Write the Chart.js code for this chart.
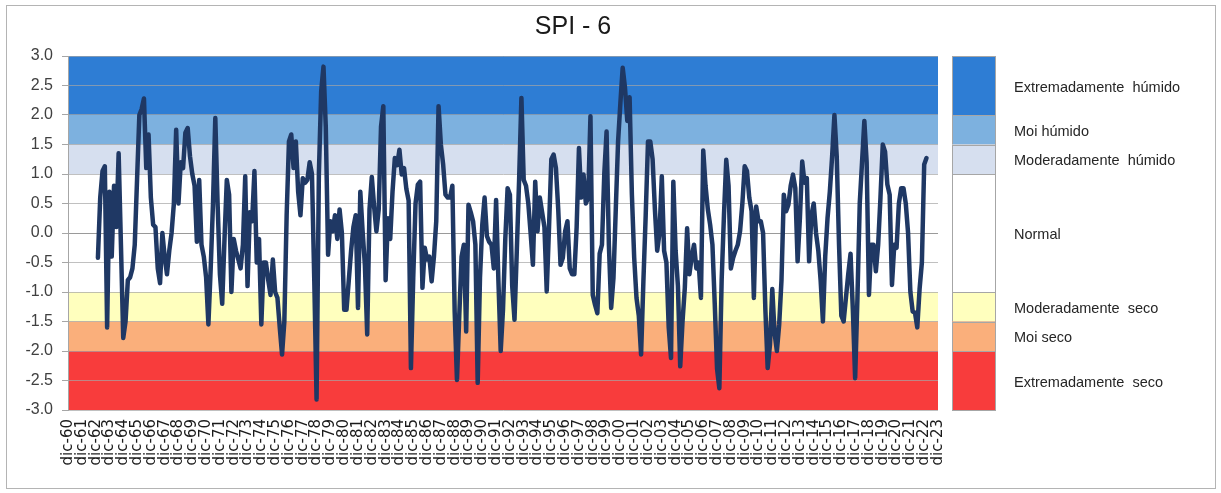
<!DOCTYPE html>
<html>
<head>
<meta charset="utf-8">
<title>SPI - 6</title>
<script src="https://cdn.jsdelivr.net/npm/chart.js@4.4.1/dist/chart.umd.min.js"></script>
<style>
    html, body { margin: 0; padding: 0; background: #fff; }
    #wrap { position: relative; width: 1221px; height: 493px; }
    #frame { position: absolute; left: 6px; top: 5px; width: 1210px; height: 484px;
             box-sizing: border-box; border: 1px solid #b4b4b4; pointer-events: none; }
</style>
</head>
<body>
<div id="wrap">
    <canvas id="spiChart" width="1221" height="493"></canvas>
    <div id="frame"></div>
</div>
<script>
// x axis: months counted from dic-60, one labelled tick each December
var yearLabels = ['60','61','62','63','64','65','66','67','68','69',
                  '70','71','72','73','74','75','76','77','78','79',
                  '80','81','82','83','84','85','86','87','88','89',
                  '90','91','92','93','94','95','96','97','98','99',
                  '00','01','02','03','04','05','06','07','08','09',
                  '10','11','12','13','14','15','16','17','18','19',
                  '20','21','22','23'];
var firstMonth = 26;   // feb-63
var stepMonths = 2;

// SPI-6, one value every two months (feb, abr, xuñ, ago, out, dic)
var spi6 = [
    -0.42, 0.6, 1.05, 1.13, -1.6, 0.7,       // 1963
    -0.4, 0.8, 0.1, 1.35, -0.2, -1.78,       // 1964
    -1.5, -0.8, -0.75, -0.6, -0.2, 0.9,      // 1965
    2.0, 2.1, 2.28, 1.1, 1.67, 0.6,          // 1966
    0.14, 0.1, -0.6, -0.85, 0.0, -0.4,       // 1967
    -0.7, -0.3, 0.0, 0.5, 1.75, 0.5,         // 1968
    1.2, 1.1, 1.7, 1.78, 1.3, 1.0,           // 1969
    0.8, -0.15, 0.9, -0.2, -0.4, -0.75,      // 1970
    -1.55, -0.6, 0.5, 1.95, 0.5, -0.7,       // 1971
    -1.2, -0.1, 0.9, 0.65, -1.0, -0.1,       // 1972
    -0.3, -0.45, -0.6, -0.2, 0.96, -0.9,     // 1973
    0.35, 0.2, 1.05, -0.5, -0.1, -1.55,      // 1974
    -0.5, -0.5, -0.8, -1.05, -0.45, -1.0,    // 1975
    -1.1, -1.6, -2.06, -1.5, 0.3, 1.55,      // 1976
    1.67, 1.1, 1.55, 0.7, 0.3, 0.93,         // 1977
    0.85, 0.9, 1.2, 1.0, -0.8, -2.82,        // 1978
    1.0, 2.4, 2.82, 1.8, -0.37, 0.2,         // 1979
    0.03, 0.3, -0.1, 0.4, 0.0, -1.3,         // 1980
    -1.3, -0.8, -0.3, 0.1, 0.3, -1.27,       // 1981
    0.7, 0.03, -0.55, -1.72, 0.4, 0.95,      // 1982
    0.45, 0.03, 0.4, 1.8, 2.15, -0.8,        // 1983
    0.25, -0.1, 0.7, 1.27, 1.15, 1.41,       // 1984
    0.99, 1.1, 0.75, 0.55, -2.29, -0.76,     // 1985
    0.5, 0.82, 0.87, -0.93, -0.25, -0.45,    // 1986
    -0.4, -0.82, -0.4, 0.2, 2.15, 1.5,       // 1987
    1.16, 0.65, 0.6, 0.6, 0.8, -1.33,        // 1988
    -2.49, -1.4, -0.4, -0.2, -1.67, 0.48,    // 1989
    0.35, 0.2, -0.2, -2.54, -0.76, 0.14,     // 1990
    0.6, -0.05, -0.15, -0.2, -0.6, 0.56,     // 1991
    -0.8, -2.0, -1.3, -0.1, 0.76, 0.65,      // 1992
    -0.9, -1.47, -0.3, 0.9, 2.29, 0.9,       // 1993
    0.8, 0.5, 0.0, -0.54, 0.87, 0.03,        // 1994
    0.6, 0.35, 0.1, -0.99, 0.1, 1.25,        // 1995
    1.33, 1.1, 0.4, -0.54, -0.42, 0.03,      // 1996
    0.2, -0.6, -0.7, -0.7, 0.1, 1.44,        // 1997
    0.6, 0.99, 0.5, 0.6, 1.98, -1.05,        // 1998
    -1.22, -1.36, -0.35, -0.2, 1.0, 1.72,    // 1999
    -0.2, -1.27, -0.76, 0.4, 1.55, 2.2,      // 2000
    2.8, 2.46, 1.9, 2.3, 0.65, -0.42,        // 2001
    -1.1, -1.4, -2.06, -0.82, 0.3, 1.55,     // 2002
    1.55, 1.25, 0.4, -0.3, 0.0, 0.96,        // 2003
    -0.3, -0.5, -1.6, -2.12, 0.87, -0.3,     // 2004
    -0.9, -2.26, -1.5, -0.93, 0.08, -0.7,    // 2005
    -0.4, -0.2, -0.6, -0.5, -1.1, 1.4,       // 2006
    0.8, 0.4, 0.14, -0.2, -1.2, -2.3,        // 2007
    -2.63, -0.8, 0.3, 1.24, 0.8, -0.6,       // 2008
    -0.42, -0.3, -0.2, 0.03, 0.5, 1.13,      // 2009
    1.05, 0.6, 0.37, -1.1, 0.45, 0.2,        // 2010
    0.2, 0.0, -1.3, -2.29, -1.89, -0.95,     // 2011
    -1.7, -2.0, -1.55, -0.8, 0.65, 0.37,     // 2012
    0.48, 0.8, 0.99, 0.76, -0.48, 0.25,      // 2013
    1.21, 0.85, 0.93, -0.48, 0.3, 0.5,       // 2014
    0.0, -0.3, -0.8, -1.5, -0.4, 0.25,       // 2015
    0.7, 1.3, 2.0, 1.3, -0.2, -1.4,          // 2016
    -1.5, -1.1, -0.7, -0.35, -1.3, -2.46,    // 2017
    -1.1, 0.5, 1.2, 1.9, 1.2, -1.05,         // 2018
    -0.2, -0.2, -0.65, -0.2, 0.6, 1.5,       // 2019
    1.38, 0.82, 0.65, -0.88, -0.2, -0.25,    // 2020
    0.5, 0.76, 0.76, 0.5, 0.0, -1.0,         // 2021
    -1.33, -1.35, -1.6, -0.95, -0.5, 1.16,   // 2022
    1.27                                     // 2023
];

// SPI classes (limits from top to bottom)
var bandLimits = [3, 2, 1.5, 1, -1, -1.5, -2, -3];
var bandColors = ['#2e7dd4', '#7db1df', '#d6dfef', '#ffffff', '#ffffbe', '#faaf7b', '#f83c3c'];
var bandNames = ['Extremadamente  húmido', 'Moi húmido', 'Moderadamente  húmido', 'Normal',
                 'Moderadamente  seco', 'Moi seco', 'Extremadamente  seco'];

var points = spi6.map(function(v, i) {
    return { x: firstMonth + i * stepMonths, y: v };
});

var bandsPlugin = {
    id: 'bands',
    beforeDraw: function(chart) {
        var ctx = chart.ctx, a = chart.chartArea, y = chart.scales.y;
        ctx.save();
        for (var i = 0; i < bandColors.length; i++) {
            var top = y.getPixelForValue(bandLimits[i]);
            var bot = y.getPixelForValue(bandLimits[i + 1]);
            ctx.fillStyle = bandColors[i];
            ctx.fillRect(a.left, top, a.right - a.left, bot - top);
            // legend column
            ctx.fillRect(a.right + 14, top, 43, bot - top);
            ctx.strokeStyle = '#a6a6a6';
            ctx.lineWidth = 1;
            ctx.strokeRect(a.right + 14.5, Math.round(top) + 0.5, 43, bot - top);
        }
        ctx.restore();
    },
    afterDraw: function(chart) {
        var ctx = chart.ctx, a = chart.chartArea, y = chart.scales.y;
        ctx.save();
        ctx.fillStyle = '#262626';
        ctx.textBaseline = 'middle';
        ctx.textAlign = 'left';
        ctx.font = '14.5px "Liberation Sans", Arial, sans-serif';
        for (var i = 0; i < bandNames.length; i++) {
            var mid = y.getPixelForValue((bandLimits[i] + bandLimits[i + 1]) / 2);
            ctx.fillText(bandNames[i], a.right + 76, mid + 2);
        }
        // title
        ctx.textAlign = 'center';
        ctx.font = '25px "Liberation Sans", Arial, sans-serif';
        ctx.fillStyle = '#1a1a1a';
        ctx.fillText('SPI - 6', a.left + (a.right - a.left) / 2 + 70, 27);
        ctx.restore();
    }
};

new Chart(document.getElementById('spiChart'), {
    type: 'line',
    data: {
        datasets: [{
            label: 'SPI - 6',
            data: points,
            borderColor: '#1f3864',
            borderWidth: 4.5,
            pointRadius: 0,
            tension: 0,
            borderJoinStyle: 'round',
            borderCapStyle: 'round',
            fill: false
        }]
    },
    options: {
        responsive: false,
        animation: false,
        layout: { padding: { left: 0, top: 56, right: 283, bottom: 23 } },
        plugins: { legend: { display: false }, tooltip: { enabled: false }, title: { display: false } },
        scales: {
            x: {
                type: 'linear',
                min: 0,
                max: (yearLabels.length - 1) * 12,
                afterFit: function(scale) { scale.height = 60; },
                grid: { display: false, drawTicks: false },
                border: { display: false },
                ticks: {
                    stepSize: 12,
                    autoSkip: false,
                    minRotation: 90,
                    maxRotation: 90,
                    padding: 9,
                    color: '#1a1a1a',
                    font: { family: '"DejaVu Sans", sans-serif', size: 15 },
                    callback: function(v) { return 'dic-' + yearLabels[Math.round(v / 12)]; }
                }
            },
            y: {
                min: -3,
                max: 3,
                afterFit: function(scale) { scale.width = 68; },
                grid: {
                    color: function(c) { return c.tick && c.tick.value === 0 ? '#9a9a9a' : 'rgba(165,165,165,0.7)'; },
                    tickLength: 6,
                    tickColor: '#a6a6a6'
                },
                border: { display: true, color: '#a6a6a6' },
                ticks: {
                    stepSize: 0.5,
                    padding: 9,
                    color: '#404040',
                    font: { family: '"Liberation Sans", Arial, sans-serif', size: 16 },
                    callback: function(v) { return v.toFixed(1); }
                }
            }
        }
    },
    plugins: [bandsPlugin]
});
</script>
</body>
</html>
